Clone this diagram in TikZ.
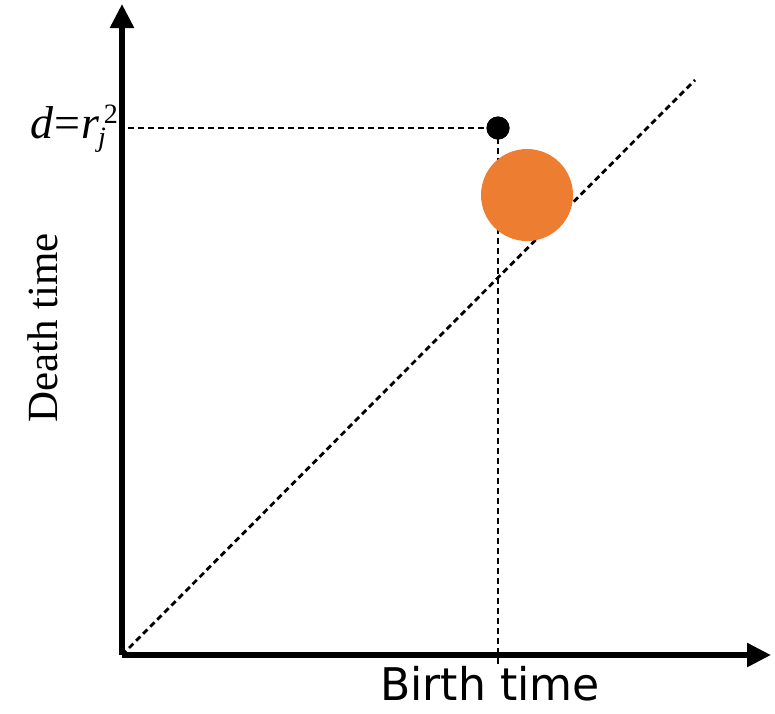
\documentclass[tikz,border=0pt]{standalone}
\usepackage{fontspec}
\setmainfont{Liberation Serif}
\newfontfamily\birthfont{DejaVu Sans}
\usetikzlibrary{arrows.meta}
\definecolor{dotorange}{HTML}{ED7D31}
\begin{document}
\begin{tikzpicture}[x=1pt,y=-1pt,
  axis/.style={line width=5.5pt,-{Triangle[length=24pt,width=23pt]}},
  guide/.style={line width=2.8pt,dash pattern=on 6pt off 4pt},
  blackdot/.style={circle,fill=black,inner sep=0pt,minimum size=23pt},
  bigdot/.style={circle,fill=dotorange,inner sep=0pt,minimum size=92pt},
  lbl/.style={inner sep=0pt}]
\useasboundingbox (0,0) rectangle (775,713);
\coordinate (O) at (122,655);
\coordinate (ytip) at (122,4);
\coordinate (xtip) at (771,655);
\coordinate (diagend) at (695,80);
\coordinate (hstart) at (128,128);
\coordinate (tick) at (498,666);
\node[blackdot] (pt) at (498,128) {};
\draw[guide] (O) -- (diagend);
\draw[guide] (hstart) -- (pt.center);
\draw[guide] (pt.center) -- (tick);
\node[bigdot] (disk) at (527,195) {};
\node[blackdot] at (pt) {};
\draw[axis] (O) -- (ytip);
\draw[axis] (O) -- (xtip);
\node[lbl,anchor=east,font=\fontsize{46}{50}\selectfont\itshape] (dlbl) at (118,129) {d\kern1pt\upshape=\kern1pt\itshape r\kern-1pt\raisebox{-8pt}{\fontsize{28}{30}\selectfont j}\kern-2pt\raisebox{15pt}{\upshape\fontsize{28}{30}\selectfont 2}};
\node[lbl,rotate=90,font=\fontsize{43}{48}\selectfont] (ylbl) at (43,328) {Death time};
\node[lbl,anchor=base,font=\birthfont\fontsize{45}{50}\selectfont] (xlbl) at (490,700) {\scalebox{0.98}[1]{Birth time}};
\end{tikzpicture}
\end{document}
